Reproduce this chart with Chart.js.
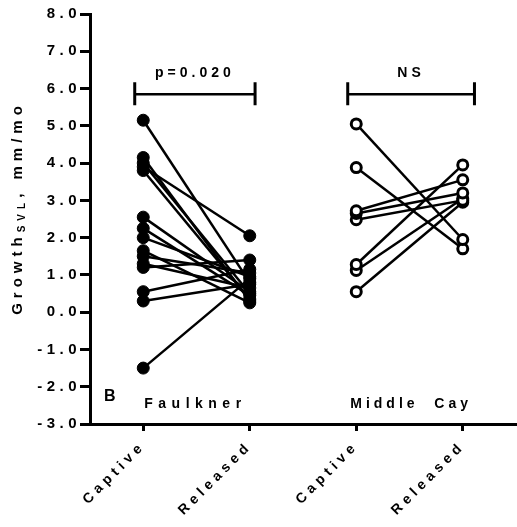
<!DOCTYPE html>
<html>
<head>
<meta charset="utf-8">
<script src="https://cdn.jsdelivr.net/npm/chart.js@4.4.0/dist/chart.umd.min.js"></script>
<style>
  html, body { margin: 0; padding: 0; background: #fff; overflow: hidden; }
  #wrap { width: 524px; height: 527px; }
</style>
</head>
<body>
<div id="wrap"><canvas id="chart"></canvas></div>
<script>
// categorias do eixo x
const categorias = ['Captive', 'Released', 'Captive', 'Released'];
const yTicks = [-3, -2, -1, 0, 1, 2, 3, 4, 5, 6, 7, 8];

// Faulkner (pares captive -> released)
const faulknerCaptive  = [5.15, 4.15, 4.0, 3.9, 3.8, 2.55, 2.25, 2.0, 1.65, 1.5, 1.3, 1.2, 0.55, 0.3, -1.5];
const faulknerReleased = [0.8, 0.3, 0.5, 2.05, 0.35, 0.55, 0.45, 0.95, 0.25, 1.05, 0.65, 1.4, 1.15, 0.75, 0.9];

// Middle Cay
const middleCaptive  = [5.05, 3.88, 2.72, 2.65, 2.48, 1.28, 1.12, 0.55];
const middleReleased = [1.95, 1.7, 3.55, 3.2, 3.0, 3.95, 3.05, 2.95];

const familia = '"Liberation Sans", Arial, sans-serif';
const fonte = 'bold 14px ' + familia;

const datasets = [];
faulknerCaptive.forEach((v, i) => {
    datasets.push({
        data: [{ x: 0, y: v }, { x: 1, y: faulknerReleased[i] }],
        borderColor: '#000', borderWidth: 2.5,
        pointRadius: 6, pointBackgroundColor: '#000', pointBorderColor: '#000', pointBorderWidth: 1
    });
});
middleCaptive.forEach((v, i) => {
    datasets.push({
        data: [{ x: 2, y: v }, { x: 3, y: middleReleased[i] }],
        borderColor: '#000', borderWidth: 2.5,
        pointRadius: 5, pointBackgroundColor: '#fff', pointBorderColor: '#000', pointBorderWidth: 3
    });
});

// textos extras: titulo y, colchetes, rotulos de grupo
const anotacoes = {
    id: 'anotacoes',
    beforeDraw(chart) {
        chart.ctx.letterSpacing = '4.5px';
    },
    afterDraw(chart) {
        const ctx = chart.ctx;
        const x = chart.scales.x, y = chart.scales.y;
        ctx.save();
        ctx.fillStyle = '#000';
        ctx.strokeStyle = '#000';

        // colchetes
        const colchete = (x0, x1, texto) => {
            const px0 = x.getPixelForValue(x0), px1 = x.getPixelForValue(x1);
            const py = y.getPixelForValue(5.85);
            ctx.lineWidth = 2.5;
            ctx.beginPath();
            ctx.moveTo(px0, py); ctx.lineTo(px1, py);
            ctx.stroke();
            ctx.lineWidth = 3;
            ctx.beginPath();
            ctx.moveTo(px0, py - 12); ctx.lineTo(px0, py + 11);
            ctx.moveTo(px1, py - 12); ctx.lineTo(px1, py + 11);
            ctx.stroke();
            ctx.font = fonte;
            ctx.letterSpacing = '4px';
            ctx.textAlign = 'center';
            ctx.textBaseline = 'middle';
            ctx.fillText(texto, (px0 + px1) / 2, py - 21);
        };
        colchete(-0.08, 1.05, 'p=0.020');
        colchete(1.92, 3.11, 'NS');

        // rotulos dos grupos
        ctx.font = fonte;
        ctx.letterSpacing = '5.5px';
        ctx.textAlign = 'left';
        ctx.textBaseline = 'middle';
        ctx.fillText('Faulkner', x.getPixelForValue(0) + 1, 404);
        ctx.letterSpacing = '4px';
        ctx.fillText('Middle  Cay', x.getPixelForValue(2) - 6, 404);
        ctx.font = 'bold 16px ' + familia;
        ctx.letterSpacing = '0px';
        ctx.fillText('B', 104, 397);

        // titulo do eixo y com subscrito
        ctx.translate(18, 208);
        ctx.rotate(-Math.PI / 2);
        const partes = [
            { t: 'Growth', f: 'bold 15px ' + familia, dy: 0 },
            { t: 'SVL', f: 'bold 10px ' + familia, dy: 4 },
            { t: ', mm/mo', f: 'bold 15px ' + familia, dy: 0 }
        ];
        ctx.letterSpacing = '5px';
        let total = 0;
        partes.forEach(p => { ctx.font = p.f; total += ctx.measureText(p.t).width; });
        let cx = -total / 2;
        ctx.textAlign = 'left';
        partes.forEach(p => {
            ctx.font = p.f;
            ctx.fillText(p.t, cx, p.dy);
            cx += ctx.measureText(p.t).width;
        });
        ctx.restore();
    }
};

new Chart(document.getElementById('chart'), {
    type: 'line',
    data: { datasets },
    options: {
        responsive: true,
        maintainAspectRatio: false,
        animation: false,
        layout: { padding: { top: 14, right: 0, left: 0, bottom: 0 } },
        plugins: { legend: { display: false }, tooltip: { enabled: false } },
        scales: {
            x: {
                type: 'linear',
                min: -0.5, max: 3.5,
                afterBuildTicks: s => { s.ticks = [0, 1, 2, 3].map(v => ({ value: v })); },
                afterFit: s => { s.height = 103; },
                ticks: {
                    color: '#000', font: { family: familia, size: 14, weight: 'bold' },
                    minRotation: 45, maxRotation: 45, padding: 7,
                    callback: v => categorias[v]
                },
                grid: { drawOnChartArea: false, drawTicks: true, tickLength: 7, color: '#000', lineWidth: 3 },
                border: { color: '#000', width: 3 }
            },
            y: {
                min: -3, max: 8,
                afterBuildTicks: s => { s.ticks = yTicks.map(v => ({ value: v })); },
                afterFit: s => { s.width = 90; },
                ticks: {
                    color: '#000', font: { family: familia, size: 15, weight: 'bold' },
                    padding: -1,
                    callback: v => v.toFixed(1)
                },
                grid: { drawOnChartArea: false, drawTicks: true, tickLength: 10, color: '#000', lineWidth: 3 },
                border: { color: '#000', width: 3 }
            }
        }
    },
    plugins: [anotacoes]
});
</script>
</body>
</html>
